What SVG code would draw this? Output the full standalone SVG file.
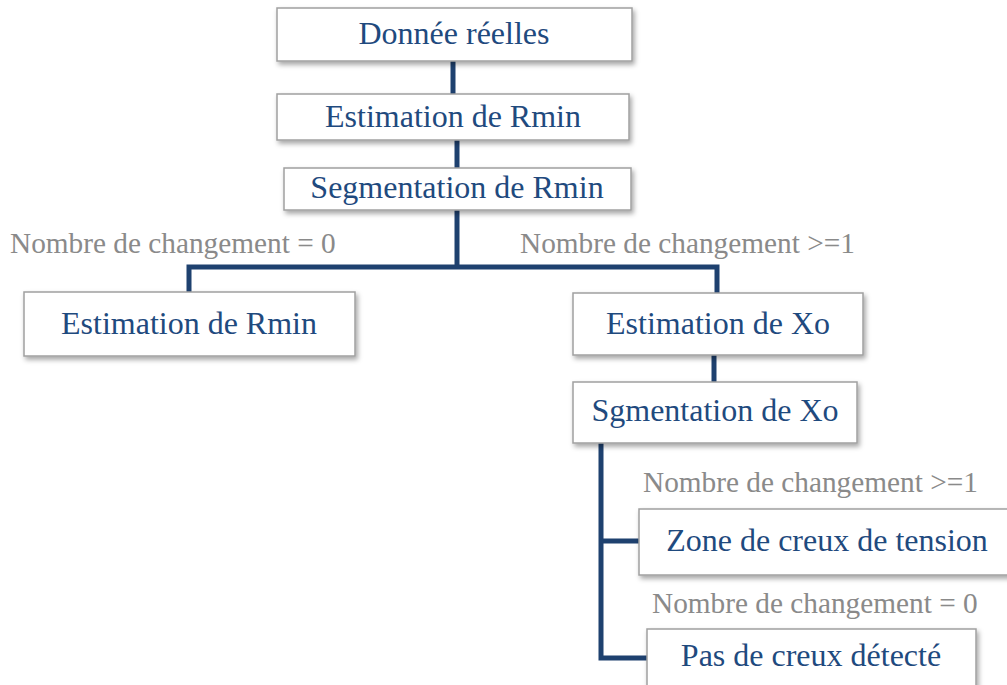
<svg xmlns="http://www.w3.org/2000/svg" width="1007" height="685" viewBox="0 0 1007 685">
<style>
.box{fill:#fff;stroke:#a0a0a0;stroke-width:1.5;filter:url(#sh)}
.t{font-family:"Liberation Serif","Times New Roman",serif;font-size:32px;fill:#1f4a7e;text-anchor:middle}
.l{font-family:"Liberation Serif","Times New Roman",serif;font-size:29.3px;fill:#8a8a8a}
.c{fill:none;stroke:#1e416f;stroke-width:5;stroke-linejoin:miter}
</style>
<defs>
<filter id="sh" x="-10%" y="-20%" width="130%" height="150%">
<feDropShadow dx="2" dy="3" stdDeviation="2.5" flood-color="#000" flood-opacity="0.35"/>
</filter>
</defs>
<rect width="1007" height="685" fill="#fff"/>
<g id="connectors">
<path class="c" d="M453 61V94"/>
<path class="c" d="M457 140V168"/>
<path class="c" d="M457 210V267"/>
<path class="c" d="M189 292V267H717V293"/>
<path class="c" d="M714 355V382"/>
<path class="c" d="M601 443V658H647"/>
<path class="c" d="M601 541H639"/>
</g>
<g id="labels">
<text class="l" x="10" y="253">Nombre de changement = 0</text>
<text class="l" x="520" y="253">Nombre de changement &gt;=1</text>
<text class="l" x="643" y="492">Nombre de changement &gt;=1</text>
<text class="l" x="652" y="613">Nombre de changement = 0</text>
</g>
<g id="n1"><rect class="box" x="277" y="8" width="355" height="53"/><text class="t" x="454" y="44">Donnée réelles</text></g>
<g id="n2"><rect class="box" x="277" y="94" width="352" height="46"/><text class="t" x="453" y="127">Estimation de Rmin</text></g>
<g id="n3"><rect class="box" x="284" y="168" width="347" height="42"/><text class="t" x="457" y="198">Segmentation de Rmin</text></g>
<g id="n4"><rect class="box" x="24" y="292" width="331" height="64"/><text class="t" x="189" y="334">Estimation de Rmin</text></g>
<g id="n5"><rect class="box" x="573" y="293" width="290" height="62"/><text class="t" x="718" y="334">Estimation de Xo</text></g>
<g id="n6"><rect class="box" x="573" y="382" width="284" height="61"/><text class="t" x="715" y="421">Sgmentation de Xo</text></g>
<g id="n7"><rect class="box" x="639" y="509" width="376" height="66"/><text class="t" x="827" y="551">Zone de creux de tension</text></g>
<g id="n8"><rect class="box" x="647" y="629" width="329" height="70"/><text class="t" x="811" y="666">Pas de creux détecté</text></g>
</svg>
